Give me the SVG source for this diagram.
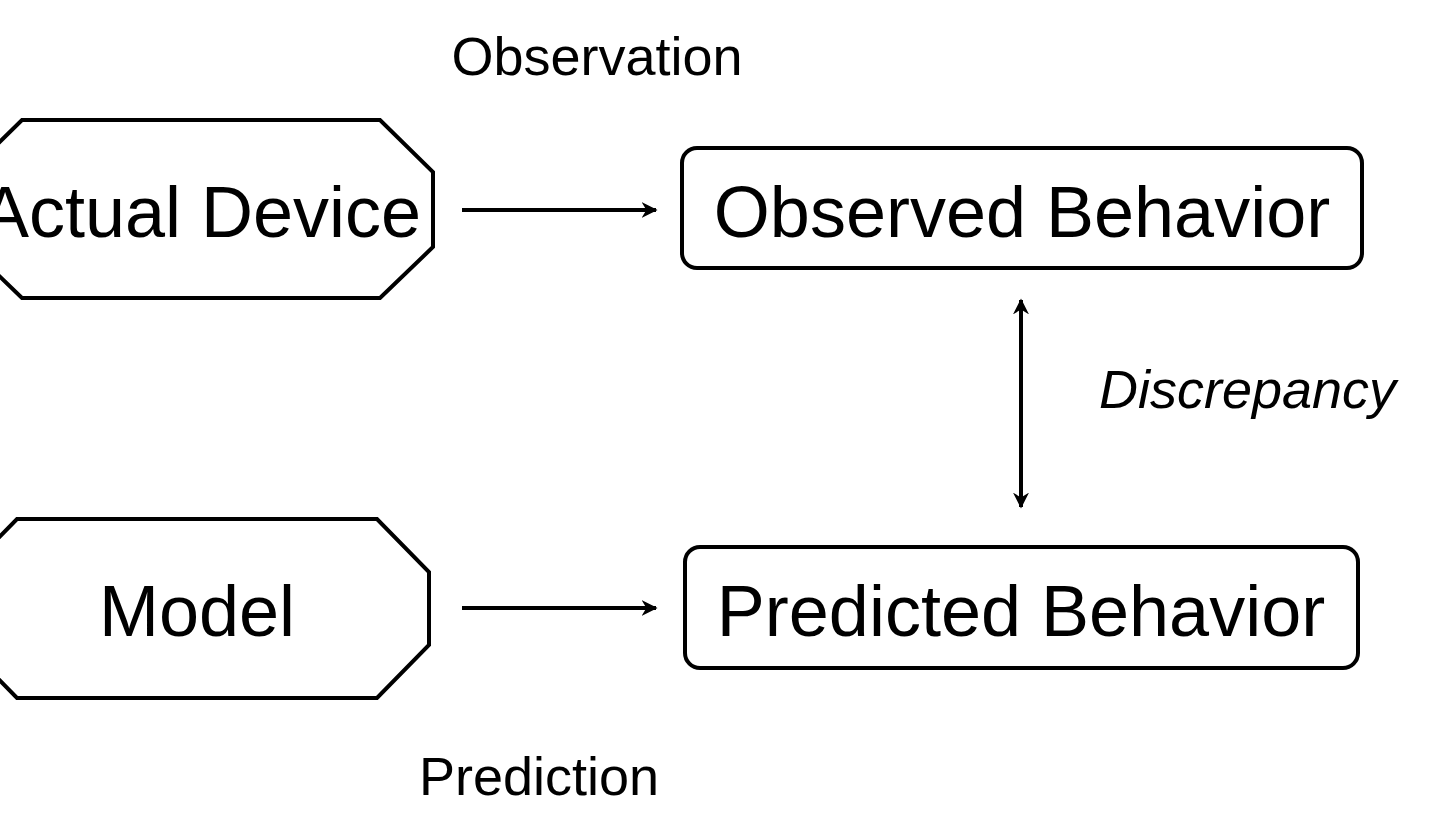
<svg xmlns="http://www.w3.org/2000/svg" width="1450" height="813" viewBox="0 0 1450 813">
<style>
.shape{fill:#fff;stroke:#000;stroke-width:4;stroke-linejoin:miter}
.big{font-family:"Liberation Sans",Arial,sans-serif;font-size:72px;fill:#000;text-anchor:middle}
.lbl{font-family:"Liberation Sans",Arial,sans-serif;font-size:54px;fill:#000}
.conn{stroke:#000;stroke-width:4;fill:none}
</style>
<defs>
<marker id="ah" viewBox="0 0 10 10" refX="9" refY="5" markerWidth="4" markerHeight="4" orient="auto-start-reverse" markerUnits="strokeWidth">
<path d="M0,0 L10,5 L0,10 L3,5 Z" fill="#000"/>
</marker>
</defs>
<rect width="1450" height="813" fill="#fff"/>
<g id="actual-device">
<polygon class="shape" points="22,120 380,120 433,172 433,247 380,298 22,298 -31,247 -31,172"/>
<text class="big" x="201" y="237">Actual Device</text>
</g>
<g id="model">
<polygon class="shape" points="17,519 377,519 429,572 429,645 377,698 17,698 -35,645 -35,572"/>
<text class="big" x="197" y="636">Model</text>
</g>
<g id="observed-behavior">
<rect class="shape" x="682" y="148" width="680" height="120" rx="15" ry="15"/>
<text class="big" x="1022" y="237">Observed Behavior</text>
</g>
<g id="predicted-behavior">
<rect class="shape" x="685" y="547" width="673" height="121" rx="15" ry="15"/>
<text class="big" x="1021" y="636">Predicted Behavior</text>
</g>
<g id="connectors">
<line class="conn" x1="462" y1="210" x2="656" y2="210" marker-end="url(#ah)"/>
<line class="conn" x1="462" y1="608" x2="656" y2="608" marker-end="url(#ah)"/>
<line class="conn" x1="1021" y1="300" x2="1021" y2="507" marker-start="url(#ah)" marker-end="url(#ah)"/>
</g>
<g id="labels">
<text class="lbl" x="597" y="75" text-anchor="middle">Observation</text>
<text class="lbl" x="539" y="795" text-anchor="middle">Prediction</text>
<text class="lbl" x="1099" y="408" font-style="italic">Discrepancy</text>
</g>
</svg>
